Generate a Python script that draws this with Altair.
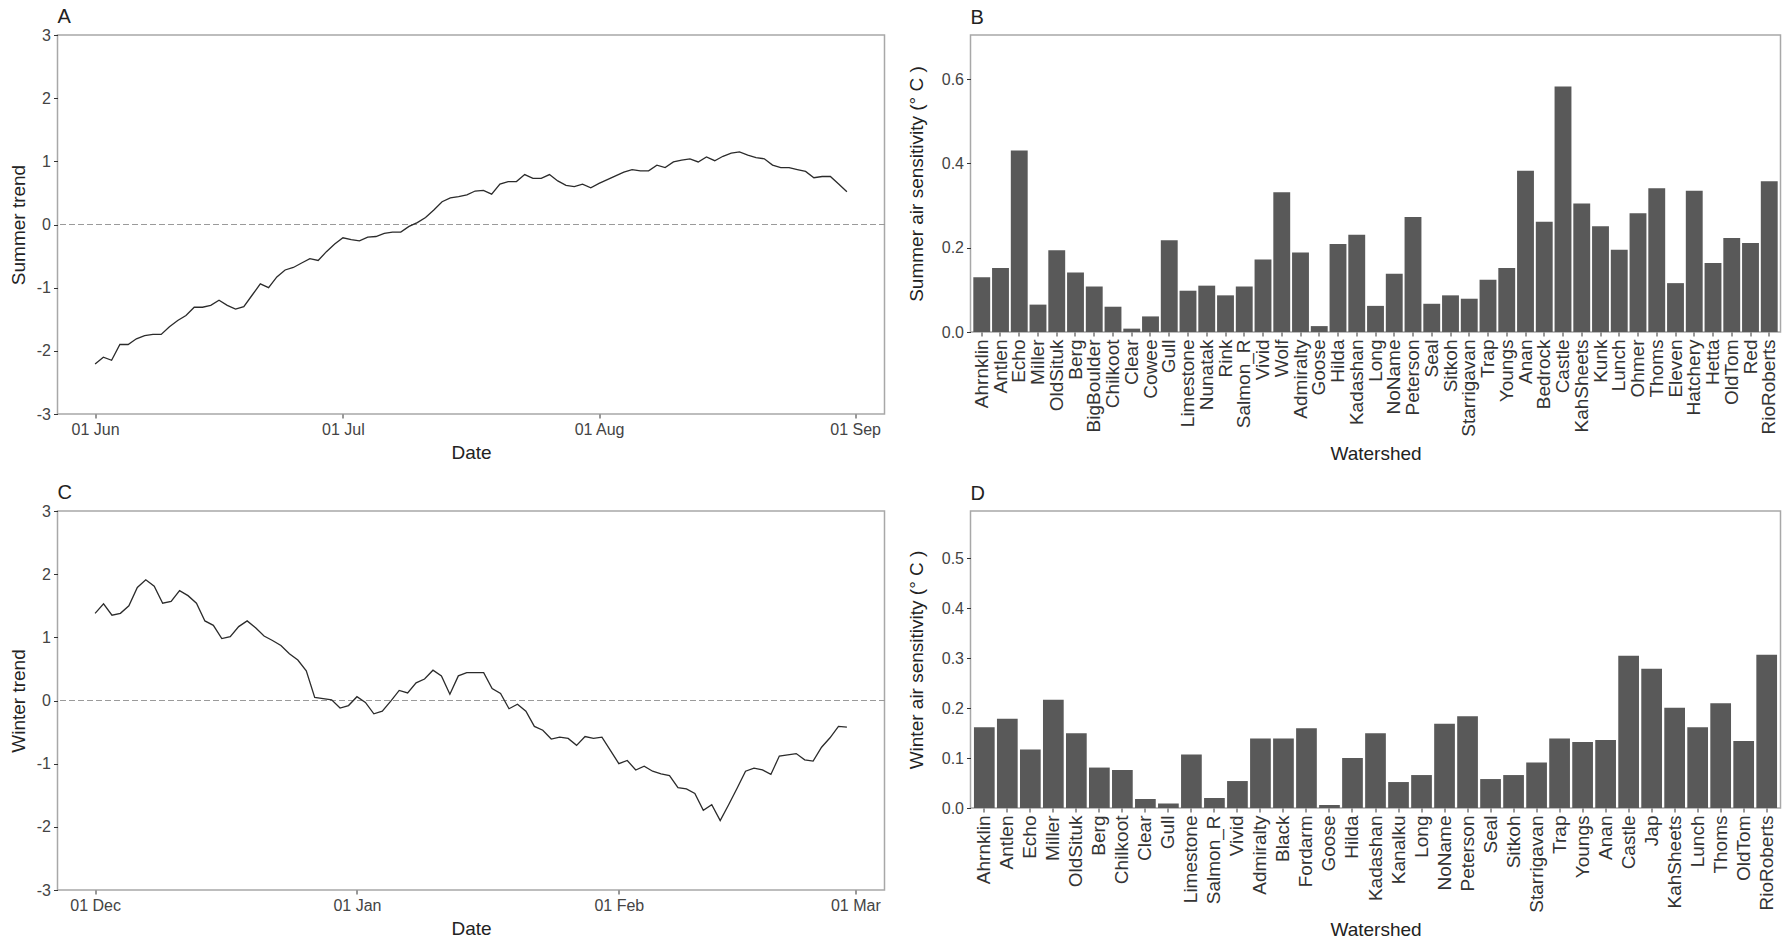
import altair as alt
import pandas as pd

# Daily stream-temperature trend, summer (from 1 Jun) and winter (from 1 Dec)
summer_trend = [
    -2.21, -2.10, -2.15, -1.90, -1.90, -1.81, -1.76, -1.74, -1.74, -1.62,
    -1.52, -1.44, -1.31, -1.31, -1.28, -1.20, -1.28, -1.34, -1.30, -1.12,
    -0.94, -1.00, -0.83, -0.72, -0.68, -0.61, -0.54, -0.57, -0.43, -0.31,
    -0.21, -0.24, -0.26, -0.20, -0.19, -0.14, -0.12, -0.12, -0.03, 0.03,
    0.11, 0.23, 0.36, 0.42, 0.44, 0.47, 0.53, 0.54, 0.48, 0.64,
    0.68, 0.68, 0.79, 0.73, 0.73, 0.79, 0.69, 0.62, 0.60, 0.64,
    0.58, 0.65, 0.71, 0.77, 0.83, 0.87, 0.85, 0.85, 0.94, 0.90,
    0.99, 1.02, 1.04, 0.99, 1.07, 1.01, 1.08, 1.13, 1.15, 1.10,
    1.06, 1.04, 0.94, 0.90, 0.90, 0.87, 0.84, 0.74, 0.76, 0.76,
    0.64, 0.52,
]
winter_trend = [
    1.38, 1.53, 1.35, 1.38, 1.50, 1.79, 1.91, 1.81, 1.54, 1.57,
    1.74, 1.66, 1.54, 1.26, 1.19, 0.98, 1.01, 1.17, 1.26, 1.15,
    1.02, 0.95, 0.87, 0.74, 0.64, 0.47, 0.05, 0.03, 0.01, -0.12,
    -0.08, 0.06, -0.03, -0.21, -0.17, -0.01, 0.16, 0.12, 0.28, 0.34,
    0.48, 0.39, 0.10, 0.39, 0.44, 0.44, 0.44, 0.19, 0.11, -0.13,
    -0.06, -0.17, -0.41, -0.47, -0.61, -0.58, -0.60, -0.71, -0.57, -0.60,
    -0.58, -0.79, -1.00, -0.95, -1.10, -1.04, -1.12, -1.16, -1.19, -1.38,
    -1.40, -1.47, -1.74, -1.65, -1.90, -1.65, -1.39, -1.12, -1.07, -1.10,
    -1.17, -0.88, -0.86, -0.84, -0.94, -0.96, -0.74, -0.59, -0.41, -0.42,
]
summer_start = "2014-06-01"
winter_start = "2014-12-01"
summer_ticks = ["2014-06-01", "2014-07-01", "2014-08-01", "2014-09-01"]
winter_ticks = ["2014-12-01", "2015-01-01", "2015-02-01", "2015-03-01"]

# Air-temperature sensitivity by watershed
summer_watersheds = [
    "Ahrnklin", "Antlen", "Echo", "Miller", "OldSituk", "Berg", "BigBoulder",
    "Chilkoot", "Clear", "Cowee", "Gull", "Limestone", "Nunatak", "Rink",
    "Salmon_R", "Vivid", "Wolf", "Admiralty", "Goose", "Hilda", "Kadashan",
    "Long", "NoName", "Peterson", "Seal", "Sitkoh", "Starrigavan", "Trap",
    "Youngs", "Anan", "Bedrock", "Castle", "KahSheets", "Kunk", "Lunch",
    "Ohmer", "Thoms", "Eleven", "Hatchery", "Hetta", "OldTom", "Red",
    "RioRoberts",
]
summer_sensitivity = [
    0.130, 0.152, 0.431, 0.065, 0.194, 0.141, 0.108,
    0.060, 0.008, 0.037, 0.218, 0.098, 0.110, 0.087,
    0.108, 0.172, 0.332, 0.189, 0.014, 0.209, 0.231,
    0.062, 0.138, 0.273, 0.067, 0.087, 0.079, 0.124,
    0.152, 0.383, 0.262, 0.583, 0.305, 0.251, 0.195,
    0.282, 0.341, 0.116, 0.335, 0.164, 0.223, 0.211,
    0.358,
]
winter_watersheds = [
    "Ahrnklin", "Antlen", "Echo", "Miller", "OldSituk", "Berg", "Chilkoot",
    "Clear", "Gull", "Limestone", "Salmon_R", "Vivid", "Admiralty", "Black",
    "Fordarm", "Goose", "Hilda", "Kadashan", "Kanalku", "Long", "NoName",
    "Peterson", "Seal", "Sitkoh", "Starrigavan", "Trap", "Youngs", "Anan",
    "Castle", "Jap", "KahSheets", "Lunch", "Thoms", "OldTom", "RioRoberts",
]
winter_sensitivity = [
    0.162, 0.179, 0.117, 0.217, 0.150, 0.081, 0.076,
    0.018, 0.009, 0.107, 0.020, 0.054, 0.139, 0.139,
    0.160, 0.006, 0.100, 0.150, 0.052, 0.066, 0.169,
    0.184, 0.058, 0.066, 0.091, 0.139, 0.132, 0.136,
    0.305, 0.279, 0.201, 0.162, 0.210, 0.134, 0.307,
]

FONT = "Liberation Sans"
BAR_COLOR = "#595959"
LINE_COLOR = "#2b2b2b"


def ms(ts):
    return int(pd.Timestamp(ts).value // 10**6)


def panel_title(letter, offset):
    return alt.TitleParams(
        letter, anchor="start", frame="group", fontSize=20,
        fontWeight="normal", font=FONT, color="#222", offset=offset,
    )


def trend_panel(start, values, ytitle, letter, ticks):
    dates = pd.date_range(start, periods=len(values), freq="D")
    df = pd.DataFrame({"date": dates.strftime("%Y-%m-%d"), "trend": values})
    pad = (dates[-1] - dates[0]) * 0.05
    domain = [ms(dates[0] - pad), ms(dates[-1] + pad)]
    base = alt.Chart(df)
    line = base.mark_line(color=LINE_COLOR, strokeWidth=1.3).encode(
        x=alt.X(
            "date:T", title="Date",
            scale=alt.Scale(type="utc", domain=domain),
            axis=alt.Axis(values=[ms(t) for t in ticks],
                          labelExpr="utcFormat(datum.value, '%d %b')",
                          labelFlush=False, titlePadding=6),
        ),
        y=alt.Y(
            "trend:Q", title=ytitle,
            scale=alt.Scale(domain=[-3, 3], nice=False, zero=False),
            axis=alt.Axis(values=[-3, -2, -1, 0, 1, 2, 3],
                          labelExpr="datum.value + ''", titlePadding=8),
        ),
    )
    zero = base.mark_rule(color="#9a9a9a", strokeDash=[5, 4], strokeWidth=1).encode(
        y=alt.datum(0)
    )
    return alt.layer(zero, line).properties(
        width=827, height=379, title=panel_title(letter, 0)
    )


def bar_panel(names, values, ytitle, letter, ymax, ticks):
    df = pd.DataFrame({"Watershed": names, "sens": values})
    return alt.Chart(df).mark_bar(color=BAR_COLOR).encode(
        x=alt.X(
            "Watershed:N", sort=names, title="Watershed",
            scale=alt.Scale(paddingInner=0.1, paddingOuter=0.15),
            axis=alt.Axis(labelAngle=-90, labelFontSize=19, labelColor="#333",
                          titlePadding=8),
        ),
        y=alt.Y(
            "sens:Q", title=ytitle,
            scale=alt.Scale(domain=[0, ymax], nice=False),
            axis=alt.Axis(values=ticks, format=".1f", titlePadding=14.5),
        ),
    ).properties(width=810, height=297, title=panel_title(letter, 7.5))


panel_a = trend_panel(summer_start, summer_trend, "Summer trend", "A", summer_ticks)
panel_b = bar_panel(summer_watersheds, summer_sensitivity,
                    "Summer air sensitivity (° C )", "B", 0.705,
                    [0.0, 0.2, 0.4, 0.6])
panel_c = trend_panel(winter_start, winter_trend, "Winter trend", "C", winter_ticks)
panel_d = bar_panel(winter_watersheds, winter_sensitivity,
                    "Winter air sensitivity (° C )", "D", 0.595,
                    [0.0, 0.1, 0.2, 0.3, 0.4, 0.5])

chart = alt.concat(
    panel_a, panel_b, panel_c, panel_d, columns=2,
    spacing=alt.RowColnumber(row=18, column=20),
).properties(
    padding={"left": 8.5, "top": 6, "right": 5, "bottom": 5},
    background="white",
).configure_view(
    stroke="#a8a8a8", strokeWidth=1.5,
).configure_axis(
    domain=False, grid=False,
    labelFont=FONT, labelFontSize=16, labelColor="#444",
    titleFont=FONT, titleFontSize=19, titleFontWeight="normal", titleColor="#222",
    tickColor="#333", tickSize=4, tickWidth=1, labelPadding=3,
)

chart.save("out.html", embed_options={"renderer": "svg", "actions": False})
